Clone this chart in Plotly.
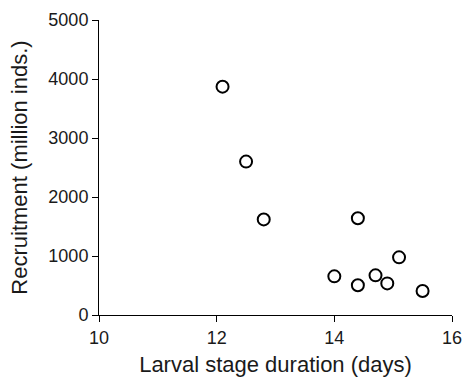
import plotly.graph_objects as go

larval_days = [12.1, 12.5, 12.8, 14.0, 14.4, 14.4, 14.7, 14.9, 15.1, 15.5]
recruitment = [3870, 2600, 1620, 655, 1640, 505, 672, 536, 977, 406]

x_ticks = [10, 12, 14, 16]
y_ticks = [0, 1000, 2000, 3000, 4000, 5000]

fig = go.Figure(go.Scatter(
    x=larval_days, y=recruitment, mode="markers",
    marker=dict(symbol="circle-open", size=12, color="black", line=dict(width=2, color="black")),
    showlegend=False, cliponaxis=False,
))

font = dict(family="Liberation Sans, Arial, sans-serif", size=18, color="#1a1a1a")

fig.update_layout(
    width=463, height=381,
    margin=dict(l=99, r=11, t=20, b=66),
    paper_bgcolor="white", plot_bgcolor="white",
    font=font,
)
fig.update_xaxes(
    range=[10, 16], tickvals=x_ticks, ticks="outside", ticklen=6, tickwidth=1,
    tickcolor="black", showline=True, linecolor="black", linewidth=1,
    showgrid=False, zeroline=False, automargin=False,
    title=dict(text="Larval stage duration (days)", standoff=10),
)
fig.update_yaxes(
    range=[0, 5000], tickvals=y_ticks, ticks="outside", ticklen=6, tickwidth=1,
    tickcolor="black", showline=True, linecolor="black", linewidth=1,
    showgrid=False, zeroline=False, automargin=False,
    title=dict(text="Recruitment (million inds.)", standoff=14),
)

fig.write_html(
    "out.html",
    config={"displayModeBar": False},
    post_script="document.body.style.margin='0px';document.body.style.overflow='hidden';",
)
